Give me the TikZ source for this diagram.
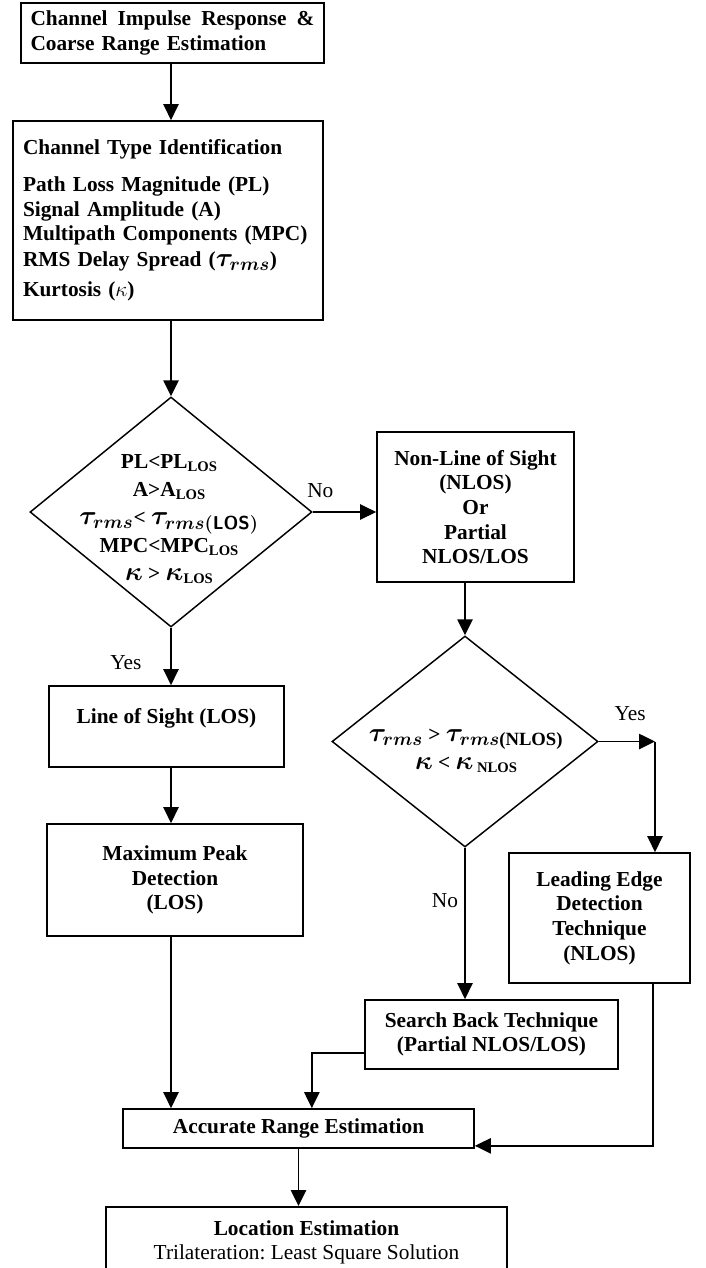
\RequirePackage{fix-cm}
\documentclass[tikz,border=0pt]{standalone}
\usepackage{amsmath}
\usepackage{fontspec}
\setmainfont{Liberation Serif}
\usetikzlibrary{arrows.meta,shapes.geometric,positioning}

\newcommand{\lsub}[1]{\raisebox{-0.25ex}{\fontsize{11}{11}\selectfont #1}}
\newcommand{\bmth}[1]{{\fontsize{20}{20}\selectfont\boldmath$#1$}}
\frenchspacing

\begin{document}
\begin{tikzpicture}[x=0.75pt,y=-0.75pt,
    every node/.style={font=\fontsize{16}{18.5}\selectfont},
    box/.style={draw,line width=1.3pt,inner sep=0pt,align=center,font=\fontsize{16}{18.5}\selectfont\bfseries},
    dec/.style={diamond,draw,line width=1.1pt,inner sep=0pt},
    cond/.style={align=center,font=\fontsize{16}{21}\selectfont\bfseries},
    arr/.style={line width=1.1pt,-{Triangle[length=12pt,width=11.5pt]}},
    lbl/.style={inner sep=0pt}]
    \useasboundingbox (0,0) rectangle (706,1268);

    \node[box, align=left, text width=213pt, inner xsep=7.1pt, minimum height=45pt] (cir) at (172.5,33)
        {Channel\hfill Impulse\hfill Response\hfill \&\\ Coarse Range Estimation};
    \node[box, align=left, text width=217.5pt, inner xsep=7.5pt, minimum height=149.25pt] (cti) at (168,220.5)
        {Channel Type Identification\\[9pt] Path Loss Magnitude (PL)\\ Signal Amplitude (A)\\
         Multipath Components (MPC)\\[1pt] RMS Delay Spread (\bmth{\tau_{rms}})\\[4pt] Kurtosis ($\kappa$)};

    \node[dec, minimum width=211.5pt, minimum height=172.5pt] (d1) at (171,512) {};
    \node[cond] (d1t) at (169,519)
        {PL<PL\lsub{LOS}\\ A>A\lsub{LOS}\\ \bmth{\tau_{rms}}< \bmth{\tau_{rms(\mathsf{LOS})}}\\
         MPC<MPC\lsub{LOS}\\ \bmth{\kappa} > \bmth{\kappa}\lsub{LOS}};

    \node[box, minimum width=147.75pt, minimum height=112.5pt] (nlos) at (475.5,507)
        {Non-Line of Sight\\ (NLOS)\\ Or\\ Partial\\ NLOS/LOS};

    \node[dec, minimum width=199.5pt, minimum height=158.25pt] (d2) at (465,741.5) {};
    \node[cond] (d2t) at (466,751)
        {\bmth{\tau_{rms}} > \bmth{\tau_{rms\text{(NLOS)}}}\\ \bmth{\kappa} <\ \bmth{\kappa}\,\lsub{NLOS}};

    \node[box, minimum width=176.25pt, text height=27.75pt, text depth=33pt] (los) at (166.5,726.5) {Line of Sight (LOS)};
    \node[box, minimum width=192pt, minimum height=84pt] (mpd) at (175,880) {Maximum Peak\\ Detection\\ (LOS)};
    \node[box, minimum width=135.75pt, minimum height=97.5pt] (led) at (599.5,918) {Leading Edge\\ Detection\\ Technique\\ (NLOS)};
    \node[box, minimum width=189.75pt, minimum height=51.75pt] (sbt) at (491.5,1034.5) {Search Back Technique\\ (Partial NLOS/LOS)};
    \node[box, minimum width=263.25pt, minimum height=29.25pt] (are) at (298.5,1128.5) {Accurate Range Estimation};
    \node[box, anchor=north, minimum width=300.75pt, inner ysep=10pt] (loc) at (306.5,1206)
        {Location Estimation\\ {\mdseries Trilateration: Least Square Solution}};

    \draw[arr] (cir.south -| d1.north) -- (cti.north -| d1.north);
    \draw[arr] (cti.south -| d1.north) -- (d1.north);
    \draw[arr] (d1.east) -- node[lbl, pos=0.12, yshift=15.75pt] {No} (d1.east -| nlos.west);
    \draw[arr] (d1.south) -- node[lbl, pos=0.61, xshift=-33.75pt] {Yes} (d1.south |- los.north);
    \draw[arr] (los.south -| d1.south) -- (mpd.north -| d1.south);
    \draw[arr] (mpd.south -| d1.south) -- (are.north -| d1.south);
    \draw[arr] (nlos.south -| d2.north) -- (d2.north);
    \coordinate (yc) at (655,741.5);
    \draw[arr] (d2.east) -- node[lbl, pos=0.56, yshift=21pt] {Yes} (yc);
    \draw[arr] (yc) -- (yc |- led.north);
    \draw[arr] (d2.south) -- node[lbl, pos=0.35, xshift=-15pt] {No} (d2.south |- sbt.north);
    \draw[arr] ([yshift=-14pt]sbt.west) -| ([xshift=10pt]are.north);
    \draw[arr] ([xshift=40pt]led.south) |- ([yshift=-13pt]are.east);
    \draw[arr] (are.south) -- (are.south |- loc.north);
\end{tikzpicture}
\end{document}
